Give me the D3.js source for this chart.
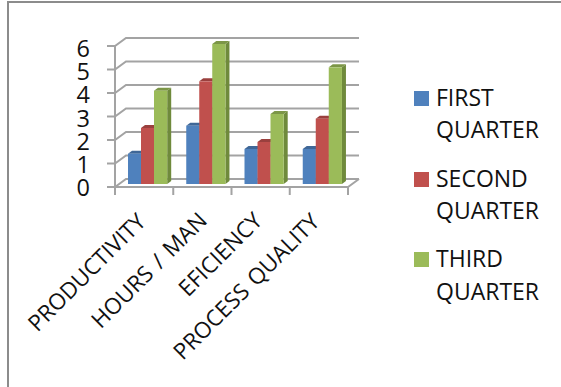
<!DOCTYPE html>
<html>
<head>
<meta charset="utf-8">
<script src="https://cdn.jsdelivr.net/npm/d3@7"></script>
<style>
html,body{margin:0;padding:0;background:#fff}
svg{display:block}
text{font-family:"Open Sans",sans-serif;fill:#111}
</style>
</head>
<body>
<svg id="chart" width="561" height="387"></svg>
<script>
// Quarterly figures per metric
const categories = ["PRODUCTIVITY", "HOURS / MAN", "EFICIENCY", "PROCESS QUALITY"];
const firstQuarter = [1.3, 2.5, 1.5, 1.5];
const secondQuarter = [2.4, 4.4, 1.8, 2.8];
const thirdQuarter = [4, 6, 3, 5];
const seriesNames = [["FIRST", "QUARTER"], ["SECOND", "QUARTER"], ["THIRD", "QUARTER"]];
const yTicks = [0, 1, 2, 3, 4, 5, 6];

const series = [firstQuarter, secondQuarter, thirdQuarter];
const front = ["#4f81bd", "#c0504d", "#9bbb59"];
const side = ["#3a5f8d", "#8e3b39", "#6f8a3c"];
const top_ = ["#3f6797", "#9a403e", "#7c9647"];

const svg = d3.select("#chart");
const grid = "#a3a3a3";

// Outer frame of the chart object
svg.append("path")
  .attr("d", "M8,387V2H561")
  .attr("fill", "none").attr("stroke", "#8c8c8c").attr("stroke-width", 2);

// Oblique projection: the back wall sits up and to the right of the front plane
const depth = {dx: 11, dy: -8};
const tickLen = 8;
const x = d3.scaleBand().domain(categories).range([115, 348]);
const y = d3.scaleLinear().domain([0, 6]).range([187, 46]);
const barY = d3.scaleLinear().domain([0, 6]).range([184, 44]);
const labelY = d3.scaleLinear().domain([0, 6]).range([196, 57]);

const walls = svg.append("g").attr("fill", "none").attr("stroke", grid).attr("stroke-width", 2);
yTicks.forEach(t => {
  walls.append("path").attr("d",
    `M${x.range()[0] - tickLen},${y(t)}H${x.range()[0]}l${depth.dx},${depth.dy}H${x.range()[1] + depth.dx}`);
});
walls.append("path").attr("d", `M${x.range()[0]},${y(6)}V${y(0) + tickLen}`);
walls.append("path").attr("d",
  `M${x.range()[0]},${y(0)}H${x.range()[1]}l${depth.dx},${depth.dy}`);
categories.forEach(c => {
  walls.append("path").attr("d", `M${x(c) + x.bandwidth()},${y(0)}v${tickLen}`);
});

// Bars, drawn as a front face, a right side face and a top face
const inner = d3.scaleBand().domain(d3.range(3)).range([13, 52]);
const bd = {dx: 4, dy: -3};
categories.forEach((c, i) => {
  const g = svg.append("g");
  series.forEach((vals, s) => {
    const bx = x(c) + inner(s), bw = inner.bandwidth() + 0.2;
    const by = barY(vals[i]), base = barY(0);
    g.append("path").attr("fill", side[s]).attr("d",
      `M${bx + bw},${by}l${bd.dx},${bd.dy}V${base + bd.dy}l${-bd.dx},${-bd.dy}Z`);
    g.append("path").attr("fill", top_[s]).attr("d",
      `M${bx},${by}l${bd.dx},${bd.dy}h${bw}l${-bd.dx},${-bd.dy}Z`);
    g.append("rect").attr("x", bx).attr("y", by).attr("width", bw)
      .attr("height", base - by).attr("fill", front[s]);
  });
});

// Value axis labels
svg.append("g").selectAll("text").data(yTicks).join("text")
  .attr("x", 90).attr("y", d => labelY(d))
  .attr("text-anchor", "end").attr("font-size", 23.5).text(d => d);

// Category labels, slanted and ending just under their slot
categories.forEach((c, i) => {
  svg.append("text")
    .attr("transform", `translate(${x(c) + x.bandwidth() / 2 + [3, 6, 3, 2][i]},${222 + [1, 0, 0, 1][i]}) rotate(-45)`)
    .attr("text-anchor", "end").attr("font-size", 22.5).attr("word-spacing", 2).text(c);
});

// Legend
const swatchTop = [91, 172, 252];
const legendBase = [[106, 138], [187, 219], [267, 300]];
const legend = svg.append("g");
seriesNames.forEach((lines, s) => {
  legend.append("rect").attr("x", 414).attr("y", swatchTop[s]).attr("width", 15).attr("height", 15).attr("fill", front[s]);
  lines.forEach((line, k) => {
    legend.append("text").attr("x", 436).attr("y", legendBase[s][k])
      .attr("font-size", 23).text(line);
  });
});
</script>
</body>
</html>
